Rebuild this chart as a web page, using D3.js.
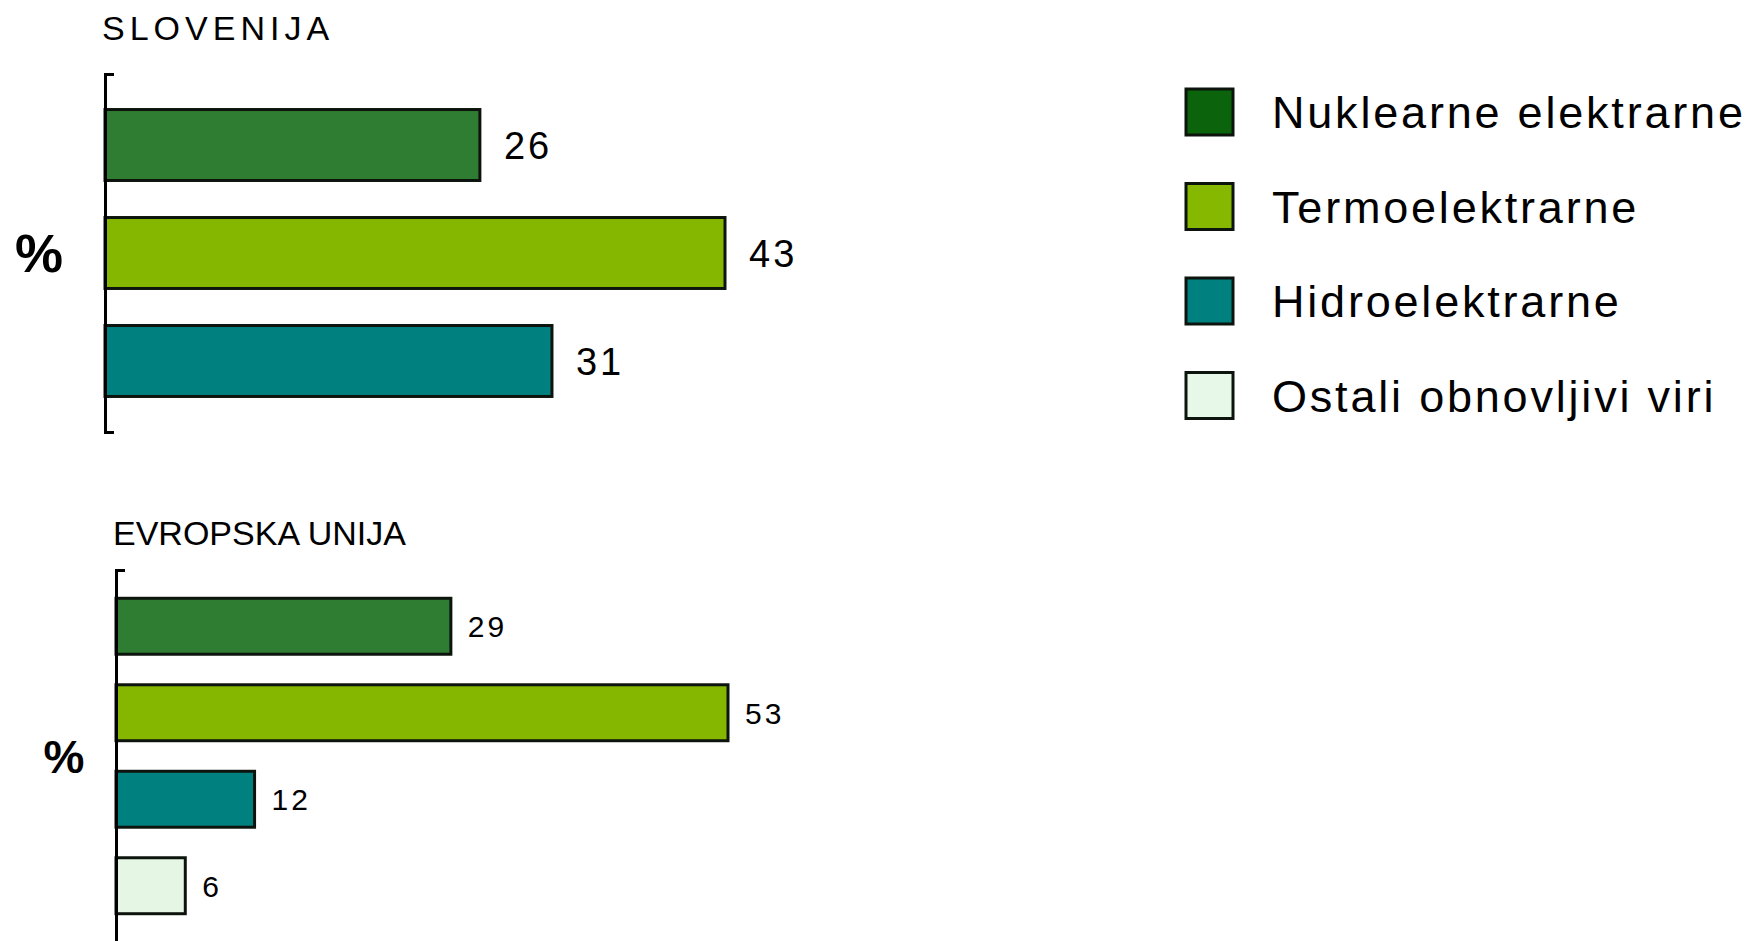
<!DOCTYPE html>
<html>
<head>
<meta charset="utf-8">
<script src="https://cdn.jsdelivr.net/npm/d3@7"></script>
<style>
  body { margin: 0; background: white; }
  text { font-family: "Liberation Sans", Arial, sans-serif; fill: #000; }
</style>
</head>
<body>
<div id="main_content"></div>
<script>
var width = 1760, height = 941;

// data
var series = ['Nuklearne elektrarne', 'Termoelektrarne', 'Hidroelektrarne', 'Ostali obnovljivi viri'];
var barColors = ['#2f7d32', '#86b700', '#00807f', '#e6f6e4'];
var legendColors = ['#0b640b', '#86b800', '#00807f', '#e8f8e8'];
var panelTitles = ['SLOVENIJA', 'EVROPSKA UNIJA'];
var sloValues = [26, 43, 31];
var euValues = [29, 53, 12, 6];

var svg = d3.select('#main_content').append('svg')
  .attr('width', width)
  .attr('height', height)
  .style('background', 'white');

function panel(o) {
  var g = svg.append('g');
  var idx = d3.range(o.values.length);

  var x = d3.scaleLinear().domain([0, o.max]).range([o.axisX, o.maxX]);
  var y = d3.scaleBand().domain(idx).range([o.top, o.bottom])
    .paddingInner(o.padIn).paddingOuter(o.padOut);

  g.append('text')
    .attr('x', o.titleX)
    .attr('y', o.titleY)
    .style('font-size', o.titleSize + 'px')
    .style('letter-spacing', o.titleSpacing + 'px')
    .text(o.title);

  g.selectAll('rect.bar')
    .data(idx)
    .enter().append('rect')
    .attr('class', 'bar')
    .attr('x', o.axisX)
    .attr('y', function(i) { return y(i); })
    .attr('width', function(i) { return x(o.values[i]) - o.axisX; })
    .attr('height', y.bandwidth())
    .attr('fill', function(i) { return barColors[i]; })
    .attr('stroke', '#0d140d')
    .attr('stroke-width', 3);

  g.selectAll('text.val')
    .data(idx)
    .enter().append('text')
    .attr('class', 'val')
    .attr('x', function(i) { return x(o.values[i]) + o.labelGap; })
    .attr('y', function(i) { return y(i) + y.bandwidth() / 2 + 0.36 * o.labelSize; })
    .style('font-size', o.labelSize + 'px')
    .style('letter-spacing', '3px')
    .text(function(i) { return o.values[i]; });

  // axis: vertical line with short end ticks pointing right
  var axis = g.append('g')
    .attr('transform', 'translate(' + o.axisX + ',0)')
    .call(d3.axisRight(y).tickValues([]).tickSizeOuter(9));
  axis.select('.domain').attr('stroke', '#000').attr('stroke-width', 3);

  g.append('text')
    .attr('x', o.pctX)
    .attr('y', (o.top + o.bottom) / 2 + 0.36 * o.pctSize)
    .attr('text-anchor', 'middle')
    .style('font-size', o.pctSize + 'px')
    .style('font-weight', 'bold')
    .text('%');
}

panel({
  title: panelTitles[0], values: sloValues, max: 43,
  axisX: 105, maxX: 725, top: 74, bottom: 432, padIn: 0.343, padOut: 0.329,
  titleX: 102, titleY: 40, titleSize: 34, titleSpacing: 5,
  labelSize: 38, labelGap: 24, pctX: 39, pctSize: 54
});

panel({
  title: panelTitles[1], values: euValues, max: 53,
  axisX: 116, maxX: 728, top: 570, bottom: 942, padIn: 0.353, padOut: 0.327,
  titleX: 113, titleY: 545, titleSize: 34, titleSpacing: 0,
  labelSize: 30, labelGap: 17, pctX: 64, pctSize: 46
});

// legend
var legend = svg.append('g').attr('transform', 'translate(1186,0)');
var row = legend.selectAll('g')
  .data(series)
  .enter().append('g')
  .attr('transform', function(d, i) { return 'translate(0,' + (112 + i * 94.5) + ')'; });

row.append('rect')
  .attr('x', 0)
  .attr('y', -23)
  .attr('width', 47)
  .attr('height', 46)
  .attr('fill', function(d, i) { return legendColors[i]; })
  .attr('stroke', '#0d140d')
  .attr('stroke-width', 3);

row.append('text')
  .attr('x', 86)
  .attr('y', 0.36 * 45)
  .style('font-size', '45px')
  .style('letter-spacing', '2.8px')
  .text(function(d) { return d; });
</script>
</body>
</html>
